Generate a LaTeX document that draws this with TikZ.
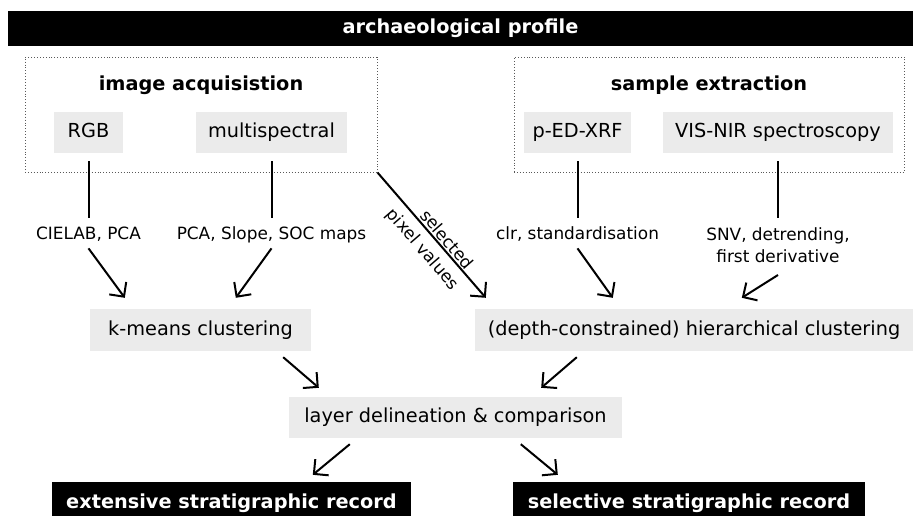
\documentclass[tikz,border=0pt]{standalone}
\usepackage{fontspec}
\setmainfont{DejaVu Sans}
\usetikzlibrary{arrows.meta}
\definecolor{boxgray}{HTML}{EBEBEB}
\begin{document}
\begin{tikzpicture}[x=1pt,y=-1pt,
  every node/.style={font=\fontsize{19.3}{23}\selectfont, inner sep=0pt},
  graybox/.style={fill=boxgray, minimum height=41pt, text height=14pt, text depth=4pt},
  blackbox/.style={fill=black, text=white, font=\fontsize{19.3}{23}\selectfont\bfseries, text height=14pt, text depth=4pt},
  dotbox/.style={draw=black!65, dotted, line width=0.9pt},
  lblfont/.style={font=\fontsize{16.9}{22.5}\selectfont},
  lbl/.style={lblfont, text height=12.3pt, text depth=3.5pt},
  conn/.style={line width=2pt},
  arr/.style={line width=2pt, line join=miter, -{Straight Barb[length=10.5pt,width=21pt]}}
]
\useasboundingbox (0,0) rectangle (913,515);
% title
\node[blackbox, minimum width=905pt, minimum height=35pt] (title) at (460.5,28.5) {archaeological profile};
% dotted groups
\node[dotbox, minimum width=352pt, minimum height=115pt] (acq) at (201,114.5) {};
\node[dotbox, minimum width=390pt, minimum height=115pt] (ext) at (709,114.5) {};
\node[text height=14pt, text depth=4pt, font=\fontsize{19.3}{23}\selectfont\bfseries] (acqt) at (201,85) {image acquisistion};
\node[text height=14pt, text depth=4pt, font=\fontsize{19.3}{23}\selectfont\bfseries] (extt) at (709,85) {sample extraction};
% sources
\node[graybox, minimum width=69pt] (rgb) at (88.5,132.5) {RGB};
\node[graybox, minimum width=151pt] (ms) at (271.5,132.5) {multispectral};
\node[graybox, minimum width=107pt] (xrf) at (577.5,132.5) {p-ED-XRF};
\node[graybox, minimum width=230pt] (vis) at (778,132.5) {VIS-NIR spectroscopy};
% labels
\node[lbl] (l1) at (88.5,234.75) {CIELAB, PCA};
\node[lbl] (l2) at (271.5,234.75) {PCA, Slope, SOC maps};
\node[lbl] (l3) at (577.5,234.75) {clr, standardisation};
\node[lblfont, align=center, anchor=north] (l4) at (778,227) {SNV, detrending,\\first derivative};
% clustering
\node[graybox, minimum width=221pt, minimum height=42pt] (km) at (200.5,330) {k-means clustering};
\node[graybox, minimum width=438pt, minimum height=42pt] (hc) at (694,330) {(depth-constrained) hierarchical clustering};
\node[graybox, minimum width=333pt] (ld) at (455.5,417.5) {layer delineation \& comparison};
% outputs
\node[blackbox, minimum width=359pt, minimum height=42pt] (er) at (231.5,503) {extensive stratigraphic record};
\node[blackbox, minimum width=352pt, minimum height=42pt] (sr) at (689,503) {selective stratigraphic record};
% connectors
\draw[conn, shorten <=8pt, shorten >=9pt] (rgb.south) -- (l1.north);
\draw[conn, shorten <=8pt, shorten >=9pt] (ms.south) -- (l2.north);
\draw[conn, shorten <=8pt, shorten >=9pt] (xrf.south) -- (l3.north);
\draw[conn, shorten <=8pt, shorten >=9pt] (vis.south) -- (l4.north);
\draw[arr] ([yshift=-5.5pt]l1.south) -- ([xshift=35pt,yshift=11pt]km.north west);
\draw[arr] ([yshift=-5.5pt]l2.south) -- ([xshift=146pt,yshift=11pt]km.north west);
\draw[arr] ([yshift=-5.5pt]l3.south) -- ([xshift=138pt,yshift=11pt]hc.north west);
\draw[arr] ([yshift=-12pt]l4.south) -- ([xshift=267pt,yshift=11pt]hc.north west);
\draw[arr] (acq.south east) -- node[sloped, above=-1.5pt, pos=0.58, lbl] {selected} node[sloped, below=8pt, pos=0.53, lbl] {pixel values} ([xshift=11pt,yshift=11pt]hc.north west);
\draw[arr] ([xshift=-28pt,yshift=-6pt]km.south east) -- ([xshift=30pt,yshift=9pt]ld.north west);
\draw[arr] ([xshift=102pt,yshift=-6pt]hc.south west) -- ([xshift=-81pt,yshift=9pt]ld.north east);
\draw[arr] ([xshift=61pt,yshift=-6pt]ld.south west) -- ([xshift=261pt,yshift=7pt]er.north west);
\draw[arr] ([xshift=232pt,yshift=-6pt]ld.south west) -- ([xshift=45pt,yshift=7pt]sr.north west);
\end{tikzpicture}
\end{document}
